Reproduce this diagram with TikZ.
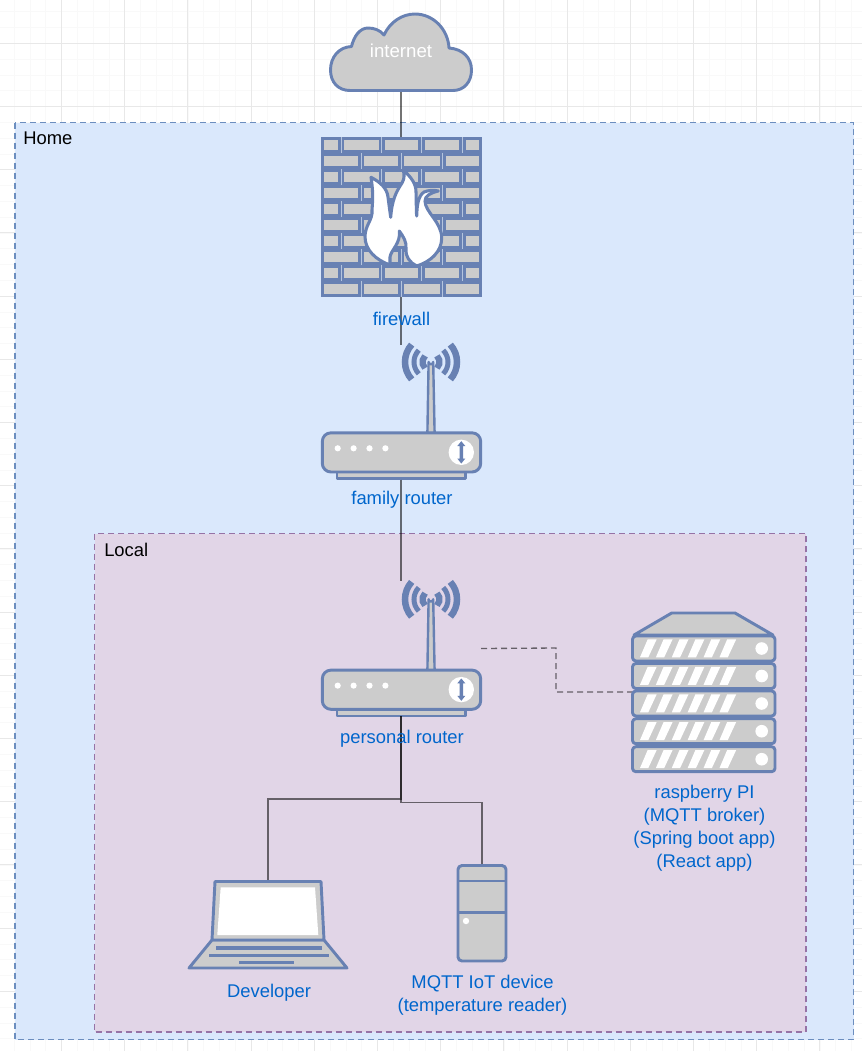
\documentclass[tikz,border=0pt]{standalone}
\usepackage{fontspec}
\setmainfont{Liberation Sans}
\definecolor{iconblue}{HTML}{6881B3}
\definecolor{icongray}{HTML}{CCCCCC}
\definecolor{labelblue}{HTML}{0066CC}
\definecolor{homefill}{HTML}{DAE8FC}
\definecolor{homeline}{HTML}{6C8EBF}
\definecolor{localfill}{HTML}{E1D5E7}
\definecolor{localline}{HTML}{9673A6}
\definecolor{gridmajor}{HTML}{E8E8E8}
\definecolor{gridminor}{HTML}{F9F9F9}
\definecolor{mortar}{HTML}{B4C4DE}
\tikzset{
  icon/.style={draw=iconblue,fill=icongray,line width=2.2pt,line join=round},
  lbl/.style={text=labelblue,align=center,inner sep=0pt,font=\fontsize{13.8}{17.25}\selectfont},
  grouplbl/.style={text=black,anchor=west,inner sep=0pt,font=\fontsize{13.8}{16}\selectfont},
  group home/.style={draw=homeline,fill=homefill,line width=1pt,dash pattern=on 4.5pt off 3pt},
  group local/.style={draw=localline,fill=localfill,line width=1pt,dash pattern=on 4.5pt off 3pt},
  conn/.style={draw=black,draw opacity=.55,line width=1pt},
  connd/.style={conn,dash pattern=on 4.5pt off 3pt},
  brick/.style={draw=iconblue,fill=icongray,line width=2.1pt},
  place/.style={inner sep=0pt,outer sep=0pt},
  routerpic/.pic={
    \foreach \r/\w/\ang in {26/6.5/42,17/5/44,8.5/6.2/46}{
      \draw[iconblue,line width=\w pt*.75] ([shift={(180-\ang:\r)}]431,362) arc[start angle=180-\ang,end angle=180+\ang,radius=\r];
      \draw[iconblue,line width=\w pt*.75] ([shift={(-\ang:\r)}]431,362) arc[start angle=-\ang,end angle=\ang,radius=\r];
    }
    \draw[draw=iconblue,fill=icongray,line width=1.8pt,line join=round] (427.4,433) -- (428.6,362) arc[start angle=180,end angle=0,radius=2.3] -- (434.6,433) -- cycle;
    \draw[icon,line width=1.8pt] (337,471) rectangle (465.5,478.5);
    \draw[icon,rounded corners=6.5pt] (322.3,432.8) rectangle (480.7,472);
    \foreach \dx in {337.7,353.6,369.5,385.4}{\fill[white] (\dx,448.3) circle[radius=3.1];}
    \fill[white] (461.3,452.3) circle[radius=12.7];
    \fill[iconblue] (461.3,441.2) -- (465.3,446) -- (463,446) -- (463,458.5) -- (465.3,458.5) -- (461.3,463.5) -- (457.3,458.5) -- (459.6,458.5) -- (459.6,446) -- (457.3,446) -- cycle;
  }
}
\begin{document}
\begin{tikzpicture}[x=0.75pt,y=-0.75pt]
\useasboundingbox (0,0) rectangle (862,1051);
\fill[white] (0,0) rectangle (862,1051);
% background grid
\foreach \k in {0,...,54}{
  \draw[gridminor,line width=.6pt] ({-1.7+15.8*\k},0) -- ({-1.7+15.8*\k},1051);
}
\foreach \k in {0,...,66}{
  \draw[gridminor,line width=.6pt] (0,{11.7+15.8*\k}) -- (862,{11.7+15.8*\k});
}
\foreach \k in {0,...,12}{
  \draw[gridmajor,line width=.7pt] ({61.5+63.2*\k},0) -- ({61.5+63.2*\k},1051);
}
\foreach \k in {0,...,15}{
  \draw[gridmajor,line width=.7pt] (0,{43.3+63.2*\k}) -- (862,{43.3+63.2*\k});
}
% groups
\path[group home] (15,122.5) rectangle (853.5,1039.5);
\path[group local] (94.5,533.5) rectangle (806,1032);
\node[grouplbl] (homelbl) at (23,138) {Home};
\node[grouplbl] (locallbl) at (104,549.5) {Local};
% anchor boxes
\node[place,minimum width=120pt,minimum height=1.5pt] (cloudbottom) at (401,91) {};
\node[place,minimum width=120pt,minimum height=120pt] (firewall) at (401,217) {};
\node[place,minimum width=120pt,minimum height=101.25pt] (family) at (401,412) {};
\node[place,minimum width=120pt,minimum height=101.25pt] (personal) at (401,648.5) {};
\node[place,minimum width=108pt,minimum height=120pt] (server) at (704,692) {};
\node[place,minimum width=120pt,minimum height=65pt] (laptop) at (268,924.5) {};
\node[place,minimum width=37pt,minimum height=72.5pt] (tower) at (482,913.5) {};
\coordinate (laptopjoin) at (401,799);
\coordinate (towerjoin) at (401,802.5);
\coordinate (dashA) at (556,648);
\coordinate (dashB) at (556,692);
% firewall bricks
\fill[mortar] (321,137) rectangle (481.5,297);
\foreach \row in {0,...,4}{
  \pgfmathsetmacro{\ya}{137+32*\row}
  \pgfmathsetmacro{\yb}{\ya+16}
  \foreach \xa/\xb in {321/340.5,341.7/381.2,382.3/421,422.3/462,463.3/481.5}{
    \draw[brick] (\xa+1.3,\ya+1.3) rectangle (\xb-1.3,\ya+14.8);
  }
  \foreach \xa/\xb in {321/360.5,361.7/400.8,401.7/442.2,443.3/481.5}{
    \draw[brick] (\xa+1.3,\yb+1.3) rectangle (\xb-1.3,\yb+14.8);
  }
}
% flame
\draw[draw=iconblue,fill=white,line width=2.3pt,line join=round]
  (390,265) .. controls (376,260) and (365,250) .. (365,236.7)
  .. controls (365,225) and (373,220) .. (372,210)
  .. controls (373,198) and (373,190) .. (371,177.3)
  .. controls (380,182) and (387,188) .. (388,197)
  .. controls (389,205) and (390,212) .. (390.7,217.3)
  .. controls (392,200) and (396,192) .. (402,183)
  .. controls (405,178) and (404,174) .. (403.3,170)
  .. controls (412,178) and (416,184) .. (416,192)
  .. controls (416.5,200) and (416,210) .. (416.7,216)
  .. controls (417,206) and (418,196) .. (424,192)
  .. controls (429,190) and (434,190) .. (438.3,191)
  .. controls (430,193) and (425,196) .. (425,201)
  .. controls (425,212) and (441.7,222) .. (441.7,238)
  .. controls (441.7,252) and (430,262) .. (416.7,266)
  .. controls (410,263) and (405,256) .. (406,249)
  .. controls (407,242) and (403,236) .. (399.3,231)
  .. controls (401,243) and (391,250) .. (390,257)
  -- cycle;
% routers
\pic at (0,0) {routerpic};
\pic at (0,237.3) {routerpic};
% connectors
\draw[conn] (cloudbottom.south) -- (firewall.north);
\draw[conn] (firewall.south) -- (family.north);
\draw[conn] (family.south) -- (personal.north);
\draw[conn] (personal.south) -- (laptopjoin) -| (laptop.north);
\draw[conn] (personal.south) -- (towerjoin) -| (tower.north);
\draw[connd] (personal.east) -- (dashA) -- (dashB) -- (server.west);
% cloud
\draw[icon]
  (350,90.5) .. controls (338,90.5) and (330.5,82) .. (330.5,70)
  .. controls (330.5,57) and (339,47) .. (351.5,46.5)
  .. controls (354,36) and (360,28) .. (368,28)
  .. controls (374,28) and (380,30) .. (384,35)
  .. controls (390,22) and (402,14) .. (415,14)
  .. controls (433,14) and (448,29) .. (449,48)
  .. controls (463,49) and (471.5,58) .. (471.5,70)
  .. controls (471.5,82) and (464,90.5) .. (453,90.5)
  -- cycle;
\node[place,text=white,font=\fontsize{14}{16}\selectfont] (internetlbl) at (401,51) {internet};
% server
\draw[icon] (671.7,613) -- (735,613) -- (773,635) -- (634,635) -- cycle;
\foreach \uy in {636,663.5,691,718.7,746.7}{
  \draw[icon,rounded corners=2.5pt] (632.5,\uy) rectangle (775,\uy+25);
  \foreach \k in {0,...,5}{
    \fill[white] (640+15.9*\k,\uy+21.3) -- (648.3+15.9*\k,\uy+21.3) -- (656.7+15.9*\k,\uy+3.3) -- (647.7+15.9*\k,\uy+3.3) -- cycle;
  }
  \fill[white] (761.7,\uy+12.5) circle[radius=6.3];
}
% laptop
\draw[icon] (189,968) -- (212,940) -- (324,940) -- (347,968) -- cycle;
\draw[icon] (215,881.5) -- (321,881.5) -- (324,940) -- (212,940) -- cycle;
\fill[white] (220.7,887.3) -- (315,887.3) -- (318.3,935) -- (217.3,935) -- cycle;
\draw[iconblue,line width=2.4pt] (216,948) -- (322.3,948);
\draw[iconblue,line width=2.4pt] (209.3,955.3) -- (329,955.3);
\draw[iconblue,line width=2.4pt] (239.3,962.3) -- (294,962.3);
% tower
\draw[icon,rounded corners=3pt] (458,865.5) rectangle (506,961);
\draw[iconblue,line width=2.2pt] (458,881) -- (506,881);
\draw[iconblue,line width=2.2pt] (458,912.7) -- (506,912.7);
\fill[white] (466,921) circle[radius=3.2];
% labels
\node[lbl] (fwlbl) at (401.5,318.5) {firewall};
\node[lbl] (famlbl) at (402,499.5) {family router};
\node[lbl] (perlbl) at (402,738.5) {personal router};
\node[lbl] (raspilbl) at (704.5,828) {raspberry PI\\(MQTT broker)\\(Spring boot app)\\(React app)};
\node[lbl] (devlbl) at (269,993) {Developer};
\node[lbl] (iotlbl) at (482.5,995) {MQTT IoT device\\(temperature reader)};
\end{tikzpicture}
\end{document}
